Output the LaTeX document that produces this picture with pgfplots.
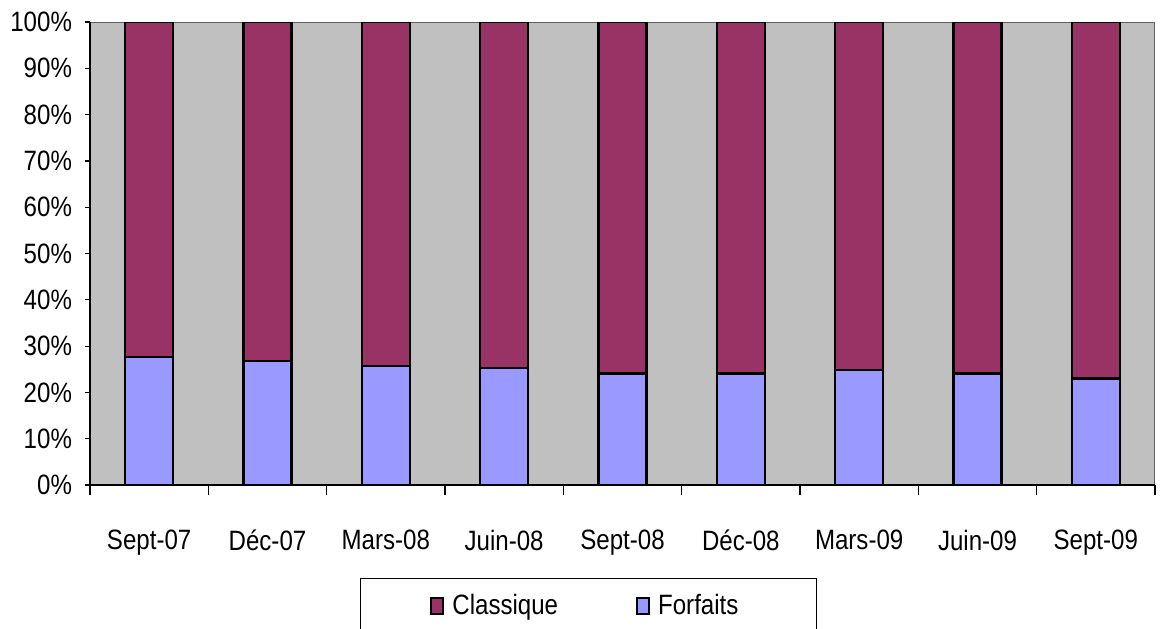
\documentclass[border=0pt]{standalone}
\usepackage{pgfplots}
\pgfplotsset{compat=1.18}
\usepackage{fontspec}
\setmainfont{Liberation Sans}[FakeStretch=0.86]
\definecolor{classique}{HTML}{993366}
\definecolor{forfaits}{HTML}{9999FF}
\definecolor{plotbg}{HTML}{C0C0C0}

\begin{document}
\begin{tikzpicture}
\begin{axis}[
  at={(0,0)}, anchor=south west,
  width=532.5pt, height=231.5pt, scale only axis,
  ybar stacked, bar width=24pt,
  xmin=-0.5, xmax=8.5, ymin=0, ymax=100,
  axis x line*=bottom, axis y line*=left,
  axis line style={black, line width=0.8pt},
  axis background/.style={fill=plotbg, draw=gray!75!black, line width=0.5pt},
  tick align=outside,
  major tick length=2.5pt, minor tick length=5pt,
  tick style={black, line width=0.6pt},
  xtick={0,...,8},
  xticklabels={Sept-07,Déc-07,Mars-08,Juin-08,Sept-08,Déc-08,Mars-09,Juin-09,Sept-09},
  major x tick style={draw=none},
  minor xtick={-0.5,0.5,...,8.5},
  ytick={0,10,...,100},
  yticklabels={0\%,10\%,20\%,30\%,40\%,50\%,60\%,70\%,80\%,90\%,100\%},
  tick label style={font=\fontsize{14}{16}\selectfont},
  xticklabel style={yshift=-16.5pt},
  yticklabel style={xshift=-3pt},
  every axis plot/.append style={draw=black, line width=1.1pt},
  legend columns=2, reverse legend,
  legend style={at={(axis description cs:0.468,-0.2009)}, anchor=north,
    draw=black, line width=0.6pt, inner xsep=35pt, inner ysep=6pt,
    font=\fontsize{14}{16}\selectfont,
    nodes={inner xsep=4pt},
    /tikz/every even column/.style={column sep=35pt}},
  legend image code/.code={\draw[#1, draw=black, line width=1pt] (0pt,-4pt) rectangle (6pt,4pt);},
]
\addplot[fill=forfaits] coordinates {(0,27.6) (1,26.8) (2,25.7) (3,25.3) (4,24.1) (5,24.1) (6,24.8) (7,24.1) (8,23.0)};
\addlegendentry{Forfaits}
\addplot[fill=classique] coordinates {(0,72.4) (1,73.2) (2,74.3) (3,74.7) (4,75.9) (5,75.9) (6,75.2) (7,75.9) (8,77.0)};
\addlegendentry{Classique}
\end{axis}
\pgfresetboundingbox
\path[use as bounding box] (-45pt,-71.5pt) rectangle (536.5pt,242.5pt);
\end{tikzpicture}
\end{document}
